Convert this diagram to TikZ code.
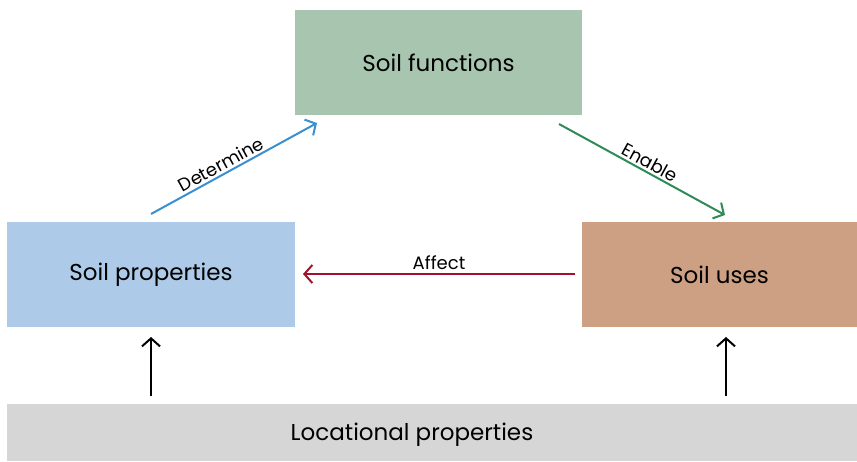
\documentclass[tikz,border=0pt]{standalone}
\usepackage{fontspec}
\setmainfont{Poppins}
\usetikzlibrary{arrows.meta}
\definecolor{funcfill}{HTML}{A8C5B0}
\definecolor{propfill}{HTML}{ADCBE8}
\definecolor{usefill}{HTML}{CDA084}
\definecolor{locfill}{HTML}{D6D6D6}
\definecolor{detblue}{HTML}{3A8FD0}
\definecolor{engreen}{HTML}{2E8B57}
\definecolor{affred}{HTML}{A0132A}
\tikzset{
  x=1pt, y=-1pt,
  boxfont/.style={font=\fontsize{23}{27}\selectfont},
  box/.style={draw=none, minimum height=105pt, inner sep=0pt, boxfont},
  link/.style={line width=2pt, -{Straight Barb[length=8pt, width=18pt, line width=2pt]}},
  lbl/.style={font=\fontsize{18}{21}\selectfont, inner sep=1pt},
}
\begin{document}
\begin{tikzpicture}
\useasboundingbox (0,0) rectangle (857,461);
\node[box, fill=funcfill, minimum width=287pt] (func) at (438.5,62.5) {Soil functions};
\node[box, fill=propfill, minimum width=288pt] (prop) at (151,274.5) {Soil properties};
\node[box, fill=usefill, minimum width=275pt] (uses) at (719.5,274.5) {Soil uses};
% base band, its caption set a little left of centre
\node[box, fill=locfill, minimum width=850pt, minimum height=57pt] (loc) at (432,432.5) {};
\node[boxfont, inner sep=0pt] (loctext) at (412,435) {Locational properties};

\coordinate (detS) at (151,214);
\coordinate (detE) at (317,123);
\coordinate (enS) at (559,124);
\coordinate (enE) at (725,215);
\coordinate (affS) at (575,274);
\coordinate (affE) at (303,274);
\coordinate (lpS) at (151,396);
\coordinate (lpE) at (151,337);
\coordinate (luS) at (726,396);
\coordinate (luE) at (726,337);

\draw[link, detblue] (detS) -- node[lbl, black, sloped, above=1pt, pos=0.45] {Determine} (detE);
\draw[link, engreen] (enS) -- node[lbl, black, sloped, above=1pt, pos=0.52] {Enable} (enE);
\draw[link, affred] (affS) -- node[lbl, black, above=2pt] {Affect} (affE);
\draw[link, black] (lpS) -- (lpE);
\draw[link, black] (luS) -- (luE);
\end{tikzpicture}
\end{document}
